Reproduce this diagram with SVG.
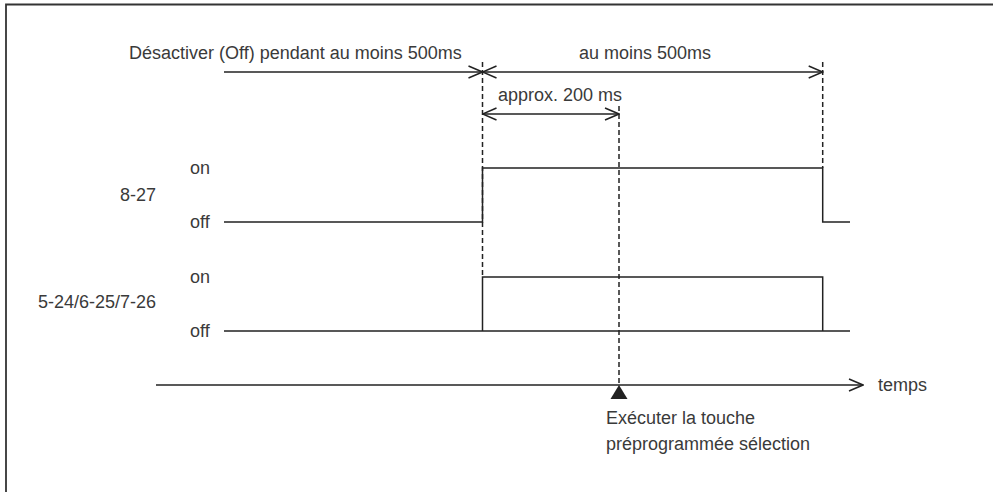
<svg xmlns="http://www.w3.org/2000/svg" width="993" height="492" viewBox="0 0 993 492">
<style>
  .t { font-family: "Liberation Sans", Arial, sans-serif; font-size: 18px; fill: #3a3a3a; }
  .ln { stroke: #222; stroke-width: 1.5; fill: none; }
  .dash { stroke: #222; stroke-width: 1.5; fill: none; stroke-dasharray: 5 3; }
</style>
<defs>
  <marker id="open" viewBox="0 0 16 14" refX="15" refY="7" markerWidth="16" markerHeight="14" markerUnits="userSpaceOnUse" orient="auto-start-reverse">
    <path d="M1,1 L15,7 L1,13" fill="none" stroke="#222" stroke-width="1.5"/>
  </marker>
</defs>
<rect width="993" height="492" fill="#fff"/>
<path d="M6,492 V4.5 H993" stroke="#333" stroke-width="1.8" fill="none"/>

<g id="connectors">
  <line class="dash" x1="482.5" y1="62" x2="482.5" y2="277"/>
  <line class="dash" x1="619" y1="106" x2="619" y2="385"/>
  <line class="dash" x1="822.7" y1="62" x2="822.7" y2="168"/>
  <line class="ln" x1="224" y1="72" x2="482.5" y2="72" marker-end="url(#open)"/>
  <line class="ln" x1="482.5" y1="72" x2="822.7" y2="72" marker-start="url(#open)" marker-end="url(#open)"/>
  <line class="ln" x1="482.5" y1="114" x2="619" y2="114" marker-start="url(#open)" marker-end="url(#open)"/>
  <line class="ln" x1="156" y1="385" x2="863" y2="385" marker-end="url(#open)"/>
  <path d="M619,385 L610.5,399 L627.5,399 Z" fill="#222"/>
</g>

<g id="signal-8-27">
  <text class="t" x="156" y="201" text-anchor="end">8-27</text>
  <text class="t" x="190" y="174">on</text>
  <text class="t" x="190" y="228">off</text>
  <path class="ln" d="M224,222 H482.5 V168 H822.7 V222 H850"/>
</g>

<g id="signal-5-24">
  <text class="t" x="156" y="308" text-anchor="end">5-24/6-25/7-26</text>
  <text class="t" x="190" y="283">on</text>
  <text class="t" x="190" y="337">off</text>
  <path class="ln" d="M224,331 H850 M482.5,331 V277 H822.7 V331"/>
</g>

<g id="labels">
  <text class="t" x="129" y="59">Désactiver (Off) pendant au moins 500ms</text>
  <text class="t" x="579" y="59">au moins 500ms</text>
  <text class="t" x="498" y="101">approx. 200 ms</text>
  <text class="t" x="878" y="391">temps</text>
  <text class="t" x="606" y="424">Exécuter la touche</text>
  <text class="t" x="606" y="450">préprogrammée sélection</text>
</g>
</svg>
